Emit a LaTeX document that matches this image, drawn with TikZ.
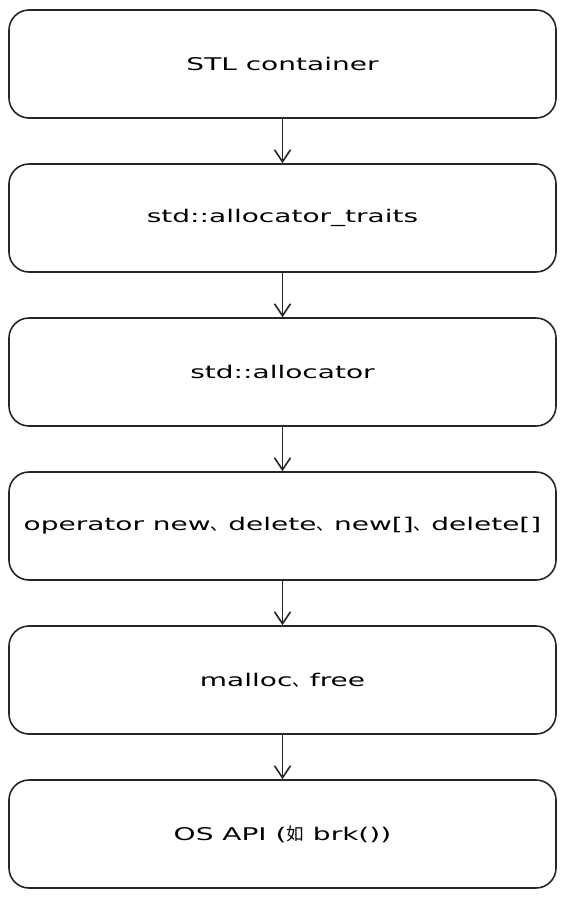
\documentclass[tikz,border=0pt]{standalone}
\usepackage{fontspec}
\setmainfont[FakeStretch=1.6]{DejaVu Sans}
\newfontfamily\cjk{Noto Sans CJK SC}
\usetikzlibrary{arrows.meta}
\begin{document}
\begin{tikzpicture}[x=1pt,y=-1pt,
  layer/.style={draw=black!85,line width=1.6pt,rounded corners=20pt,minimum width=547pt,minimum height=108pt,inner sep=0pt,font=\fontsize{17.5}{21}\selectfont},
  conn/.style={draw=black!85,line width=1.6pt,-{Straight Barb[length=12pt,width=16pt,line width=1.6pt]}}]
\useasboundingbox (0,0) rectangle (566,898);
\node[layer] (a) at (282.5,64) {STL container};
\node[layer] (b) at (282.5,218) {std::allocator\_traits};
\node[layer] (c) at (282.5,372) {std::allocator};
\node[layer] (d) at (282.5,526) {operator new{\cjk 、}delete{\cjk 、}new[]{\cjk 、}delete[]};
\node[layer] (e) at (282.5,680) {malloc{\cjk 、}free};
\node[layer] (f) at (282.5,834) {OS API ({\cjk 如} brk())};
\draw[conn] (a) -- (b);
\draw[conn] (b) -- (c);
\draw[conn] (c) -- (d);
\draw[conn] (d) -- (e);
\draw[conn] (e) -- (f);
\end{tikzpicture}
\end{document}
